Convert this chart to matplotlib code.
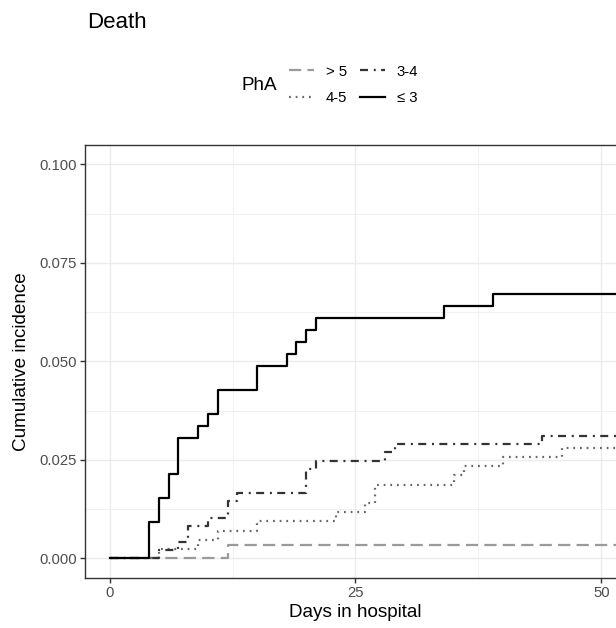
import matplotlib
matplotlib.use("Agg")
import matplotlib.pyplot as plt

# cumulative incidence of death by PhA group (step functions)
groups = ["> 5", "4-5", "3-4", "≤ 3"]

t_gt5 = [0, 12, 60]
y_gt5 = [0, 0.0034, 0.0034]

t_45 = [0, 5, 9, 11, 15, 23, 26, 27, 35, 36, 40, 46, 60]
y_45 = [0, 0.0023, 0.0047, 0.0070, 0.0094, 0.0117, 0.0140, 0.0187,
        0.0211, 0.0234, 0.0257, 0.0281, 0.0281]

t_34 = [0, 5, 7, 8, 10, 12, 13, 20, 21, 28, 29, 44, 60]
y_34 = [0, 0.0021, 0.0041, 0.0083, 0.0103, 0.0145, 0.0165, 0.0227,
        0.0248, 0.0269, 0.0289, 0.0310, 0.0310]

t_le3 = [0, 4, 5, 6, 7, 9, 10, 11, 15, 18, 19, 20, 21, 34, 39, 60]
y_le3 = [0, 0.0091, 0.0152, 0.0213, 0.0305, 0.0335, 0.0366, 0.0427,
         0.0488, 0.0518, 0.0549, 0.0579, 0.0610, 0.0640, 0.0671, 0.0671]

x_ticks = [0, 25, 50]
y_ticks = [0.000, 0.025, 0.050, 0.075, 0.100]

plt.rcParams['font.family'] = ['Liberation Sans', 'DejaVu Sans']

fig = plt.figure(figsize=(6.16, 6.28), dpi=100)
ax = fig.add_axes([0.138, 0.0796, 0.8782, 0.690])

lw = 1.6
styles = [
    (t_gt5, y_gt5, '#9a9a9a', (0, (5.5, 2.8))),
    (t_45, y_45, '#666666', (0, (0.8, 2.2))),
    (t_34, y_34, '#333333', (0, (3.6, 2.6, 0.9, 2.4))),
    (t_le3, y_le3, '#000000', '-'),
]
handles = []
for (t, y, col, ls), nm in zip(styles, groups):
    h, = ax.step(t, y, where='post', color=col, linestyle=ls, lw=lw, label=nm)
    handles.append(h)

ax.set_xticks(x_ticks)
ax.set_xticklabels([str(v) for v in x_ticks])
ax.set_yticks(y_ticks)
ax.set_yticklabels(['%.3f' % v for v in y_ticks])
ax.set_xticks([12.5, 37.5], minor=True)
ax.set_yticks([0.0125, 0.0375, 0.0625, 0.0875], minor=True)
ax.set_xlim(-2.5, 52.5)
ax.set_ylim(-0.005, 0.105)

ax.grid(which='major', color='#EBEBEB', lw=1.0)
ax.grid(which='minor', color='#EBEBEB', lw=0.5)
ax.set_axisbelow(True)
for s in ax.spines.values():
    s.set_color('#333333')
    s.set_linewidth(1.0)
ax.tick_params(which='major', length=3.4, width=1.0, color='#333333',
               labelsize=10.7, labelcolor='#4D4D4D', pad=2.5)
ax.tick_params(which='minor', length=0)

ax.set_xlabel('Days in hospital', fontsize=13.6, va='center')
ax.set_ylabel('Cumulative incidence', fontsize=13.6, va='center')
ax.xaxis.set_label_coords(0.5, -0.0785)
ax.yaxis.set_label_coords(-0.1165, 0.5)

fig.text(0.141, 1 - 23 / 628, 'Death', fontsize=16, va='center', ha='left')

fig.text(241.6 / 616, 1 - 86 / 628, 'PhA', fontsize=13.6, va='center', ha='left')
fig.legend(handles=handles, labels=groups, ncol=2, loc='center left',
           bbox_to_anchor=(289 / 616, 1 - 85 / 628), frameon=False,
           fontsize=10.7, handlelength=1.68, handletextpad=0.8,
           columnspacing=0.85, labelspacing=0.85, borderpad=0,
           borderaxespad=0)

fig.savefig('out.png', dpi=100)
